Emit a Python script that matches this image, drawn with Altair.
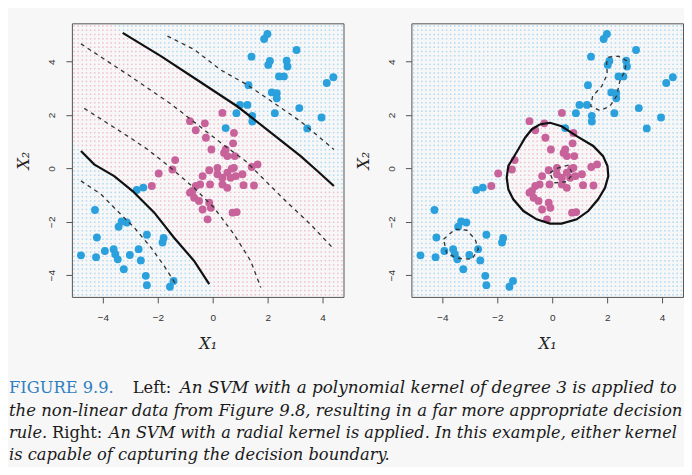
import altair as alt
import numpy as np
import pandas as pd

alt.data_transformers.disable_max_rows()

# ---------------- observations ----------------
blue_x = [1.99, 1.87, 3.05, 1.41, 2.08, 2.02, 2.69, 2.72, 2.41, 2.59, 4.39, 4.15, 1.30,
          2.15, 2.33, 2.33, 1.26, 0.99, 0.86, 1.44, 1.44, 2.26, 3.15, 3.96, 3.44, 0.47,
          -2.77, -2.53, -4.29, -3.32, -3.13, -3.43, -2.40, -4.22, -1.79, -1.83, -4.80, -4.25,
          -3.93, -3.61, -3.55, -3.46, -3.02, -2.70, -2.62, -3.24, -2.44, -2.40, -1.56, -1.43]
blue_y = [5.04, 4.85, 4.44, 4.19, 4.03, 3.88, 4.04, 3.82, 3.45, 3.45, 3.42, 3.20, 3.12,
          2.85, 2.82, 2.63, 2.38, 2.38, 2.07, 1.97, 1.76, 2.07, 2.26, 1.91, 1.50, 1.51,
          -0.81, -0.72, -1.56, -1.99, -2.03, -2.19, -2.49, -2.59, -2.61, -2.78, -3.26, -3.33,
          -3.10, -3.03, -3.22, -3.41, -3.25, -3.03, -3.45, -3.78, -4.03, -4.38, -4.44, -4.22]
pink_x = [0.35, -0.83, -0.29, -0.62, -0.25, 0.77, 0.74, -0.05, 0.41, 0.53, 0.80, -1.37,
          -1.47, -1.97, -2.22, 1.63, 1.42, 0.77, 0.53, -0.13, 0.17, -0.37, 0.35, 0.65, 1.08,
          0.35, 1.12, 1.50, -0.46, -0.62, -0.74, -0.83, -0.68, -0.13, -0.07, -0.37, -0.19,
          0.72, 0.87, 0.17, 0.69, 0.84, 0.53, -0.50, -0.10, 0.47]
pink_y = [2.08, 1.77, 1.69, 1.43, 1.15, 1.33, 0.94, 0.71, 0.58, 0.46, 0.46, 0.31,
          -0.04, -0.19, -0.66, 0.15, 0.05, 0.02, -0.16, -0.07, -0.22, -0.29, -0.35, -0.35, -0.22,
          -0.60, -0.63, -0.64, -0.60, -0.66, -0.85, -0.91, -1.10, -1.29, -1.48, -1.54, -1.91,
          -1.66, -1.64, 0.02, -0.01, -0.29, -0.73, -1.22, -0.60, 0.71]

# ---------------- left panel: polynomial kernel curves ----------------
upper_solid_x = [-3.28, -1.89, -0.44, 0.90, 2.23, 3.20, 3.81, 4.41]
upper_solid_y = [5.08, 4.21, 3.23, 2.32, 1.25, 0.46, -0.10, -0.66]
lower_solid_x = [-4.80, -4.32, -3.59, -2.92, -2.13, -1.41, -0.68, -0.13]
lower_solid_y = [0.65, 0.15, -0.29, -0.85, -1.66, -2.60, -3.47, -4.34]
dashA_x = [-1.65, -0.68, 0.29, 1.26, 2.23, 3.20, 4.41]
dashA_y = [4.96, 4.46, 3.69, 3.13, 2.45, 1.76, 0.71]
dashB_x = [-4.80, -3.10, -1.53, 0.29, 1.20, 1.93, 2.72, 3.56, 4.41]
dashB_y = [4.67, 3.52, 2.42, 0.96, 0.27, -0.48, -1.29, -2.10, -3.03]
dashC_x = [-4.68, -3.95, -3.10, -2.37, -1.53, -0.68, 0.05, 0.77, 1.38, 1.75]
dashC_y = [2.25, 1.77, 1.21, 0.71, 0.02, -0.73, -1.48, -2.47, -3.47, -4.47]
dashD_x = [-4.80, -4.07, -3.47, -2.86, -2.25, -1.77, -1.35]
dashD_y = [-0.47, -0.97, -1.60, -2.22, -2.97, -3.66, -4.34]

# ---------------- right panel: radial kernel curves ----------------
loop_x = [-0.45, -0.08, 0.34, 0.89, 1.49, 1.85, 2.01, 2.04, 1.92, 1.67, 1.31, 0.89, 0.34,
          -0.08, -0.57, -1.05, -1.42, -1.60, -1.66, -1.60, -1.42, -1.24, -0.99, -0.75, -0.45]
loop_y = [1.65, 1.71, 1.58, 1.21, 0.84, 0.46, 0.09, -0.29, -0.73, -1.16, -1.60, -1.91, -2.07,
          -2.07, -1.91, -1.60, -1.16, -0.79, -0.35, 0.09, 0.40, 0.71, 1.15, 1.46, 1.65]
bl_x = [-3.96, -3.54, -3.11, -2.81, -2.69, -2.93, -3.42, -3.84, -3.96]
bl_y = [-2.66, -2.28, -2.32, -2.66, -3.03, -3.41, -3.37, -3.20, -2.66]
tr_x = [2.04, 2.40, 2.70, 2.64, 2.46, 2.34, 2.10, 1.73, 1.40, 1.47, 1.80, 2.00, 1.98, 2.04]
tr_y = [4.17, 4.21, 4.04, 3.64, 3.27, 2.71, 2.33, 2.17, 2.33, 2.71, 3.08, 3.52, 3.95, 4.17]
ctr_x = [-0.08, 0.22, 0.58, 0.74, 0.52, 0.10, -0.02, -0.08]
ctr_y = [-0.16, 0.02, 0.12, -0.22, -0.50, -0.54, -0.35, -0.16]

tick_values = [-4, -2, 0, 2, 4]
XDOM = [-5.13, 4.76]
YDOM = [-4.82, 5.44]

caption_line1 = ["FIGURE 9.9.", "Left:", "An SVM with a polynomial kernel of degree 3 is applied to"]
caption_line2 = ["the non-linear data from Figure 9.8, resulting in a far more appropriate decision"]
caption_line3 = ["rule.", "Right:", "An SVM with a radial kernel is applied. In this example, either kernel"]
caption_line4 = ["is capable of capturing the decision boundary."]

BLUE, PINK = "#2aa0dc", "#c8629a"
BLUE_L, PINK_L = "#9fd4f2", "#eeb3c9"

# ---------------- background lattice (classifier regions) ----------------
gx = np.arange(XDOM[0] + 0.08, XDOM[1], 0.15)
gy = np.arange(YDOM[0] + 0.08, YDOM[1], 0.16)
GX, GY = np.meshgrid(gx, gy)
GX, GY = GX.ravel(), GY.ravel()


def extrap(xq, xs, ys):
    xs, ys = np.asarray(xs), np.asarray(ys)
    y = np.interp(xq, xs, ys)
    lo, hi = xq < xs[0], xq > xs[-1]
    s0 = (ys[1] - ys[0]) / (xs[1] - xs[0])
    s1 = (ys[-1] - ys[-2]) / (xs[-1] - xs[-2])
    y[lo] = ys[0] + s0 * (xq[lo] - xs[0])
    y[hi] = ys[-1] + s1 * (xq[hi] - xs[-1])
    return y


def inside(px, py, vx, vy):
    res = np.zeros(len(px), bool)
    for i in range(len(vx) - 1):
        x1, y1, x2, y2 = vx[i], vy[i], vx[i + 1], vy[i + 1]
        cond = (y1 > py) != (y2 > py)
        dy = (y2 - y1) if y2 != y1 else 1e-9
        xint = x1 + (py - y1) * (x2 - x1) / dy
        res ^= cond & (px < xint)
    return res


left_pink = (GY > extrap(GX, lower_solid_x, lower_solid_y)) & (GY < extrap(GX, upper_solid_x, upper_solid_y))
right_pink = inside(GX, GY, loop_x, loop_y)
lat_left = pd.DataFrame({"x": GX, "y": GY, "cls": np.where(left_pink, "pink", "blue")})
lat_right = pd.DataFrame({"x": GX, "y": GY, "cls": np.where(right_pink, "pink", "blue")})

pts = pd.DataFrame({
    "x": blue_x + pink_x,
    "y": blue_y + pink_y,
    "cls": ["blue"] * len(blue_x) + ["pink"] * len(pink_x),
})


def curves(pairs):
    rows = []
    for name, xs, ys in pairs:
        for i, (a, b) in enumerate(zip(xs, ys)):
            rows.append({"curve": name, "i": i, "x": a, "y": b})
    return pd.DataFrame(rows)


left_solid = curves([("u", upper_solid_x, upper_solid_y), ("l", lower_solid_x, lower_solid_y)])
left_dash = curves([("a", dashA_x, dashA_y), ("b", dashB_x, dashB_y),
                    ("c", dashC_x, dashC_y), ("d", dashD_x, dashD_y)])
right_solid = curves([("loop", loop_x, loop_y)])
right_dash = curves([("bl", bl_x, bl_y), ("tr", tr_x, tr_y), ("ctr", ctr_x, ctr_y)])

xscale = alt.Scale(domain=XDOM, nice=False, zero=False)
yscale = alt.Scale(domain=YDOM, nice=False, zero=False)
xaxis = alt.Axis(values=tick_values, title="X₁", labelPadding=10, titlePadding=13)
yaxis = alt.Axis(values=tick_values, title="X₂", labelAngle=-90, labelPadding=9, titlePadding=15)


def panel(lat, solid, dash):
    X = alt.X("x:Q", scale=xscale, axis=xaxis)
    Y = alt.Y("y:Q", scale=yscale, axis=yaxis)
    lattice = alt.Chart(lat).mark_square(size=2.2, opacity=0.85).encode(
        x=X, y=Y,
        fill=alt.Fill("cls:N", scale=alt.Scale(domain=["blue", "pink"], range=[BLUE_L, PINK_L]), legend=None))
    dashed = alt.Chart(dash).mark_line(strokeDash=[4, 4], strokeWidth=1.3, color="#333").encode(
        x=X, y=Y, detail="curve:N", order="i:Q")
    points = alt.Chart(pts).mark_circle(size=62, opacity=1).encode(
        x=X, y=Y,
        color=alt.Color("cls:N", scale=alt.Scale(domain=["blue", "pink"], range=[BLUE, PINK]), legend=None))
    solid_l = alt.Chart(solid).mark_line(strokeWidth=2.2, color="#111").encode(
        x=X, y=Y, detail="curve:N", order="i:Q")
    return alt.layer(lattice, points, dashed, solid_l).properties(width=272, height=274)


left = panel(lat_left, left_solid, left_dash)
right = panel(lat_right, right_solid, right_dash)


def seg(text, px, py, fs, italic=True, color="#1a1a1a"):
    return alt.Chart(pd.DataFrame({"t": [text]})).mark_text(
        align="left", baseline="middle", font="DejaVu Serif", fontSize=fs,
        fontStyle="italic" if italic else "normal", color=color
    ).encode(text="t:N", x=alt.value(px), y=alt.value(py))


L1, L2, L3, L4 = 22, 45, 67, 89
caption = alt.layer(
    seg(caption_line1[0], -63, L1, 16.3, italic=False, color="#2f7fc0"),
    seg(caption_line1[1], 61, L1, 16.3, italic=False),
    seg(caption_line1[2], 108, L1, 16.8),
    seg(caption_line2[0], -63, L2, 16.5),
    seg(caption_line3[0], -63, L3, 16.3),
    seg(caption_line3[1], -20, L3, 16.3, italic=False),
    seg(caption_line3[2], 37, L3, 16.15),
    seg(caption_line4[0], -63, L4, 16.3),
).properties(width=500, height=100, view=alt.ViewBackground(stroke="transparent"))

chart = alt.vconcat(
    alt.hconcat(left, right, spacing=10),
    caption,
    spacing=12,
).properties(
    padding={"left": 0, "top": 14, "right": 0, "bottom": 0},
    background="#f7f7f7",
).configure_axis(
    grid=False, domain=False, tickColor="#555", tickSize=6, tickWidth=1,
    labelFont="Liberation Sans", labelFontSize=10, labelColor="#333",
    titleFont="DejaVu Serif", titleFontStyle="italic", titleFontWeight="normal",
    titleFontSize=16, titleColor="#222",
).configure_view(stroke="#555", strokeWidth=1)

chart.save("out.html", embed_options={"renderer": "svg", "actions": False})
